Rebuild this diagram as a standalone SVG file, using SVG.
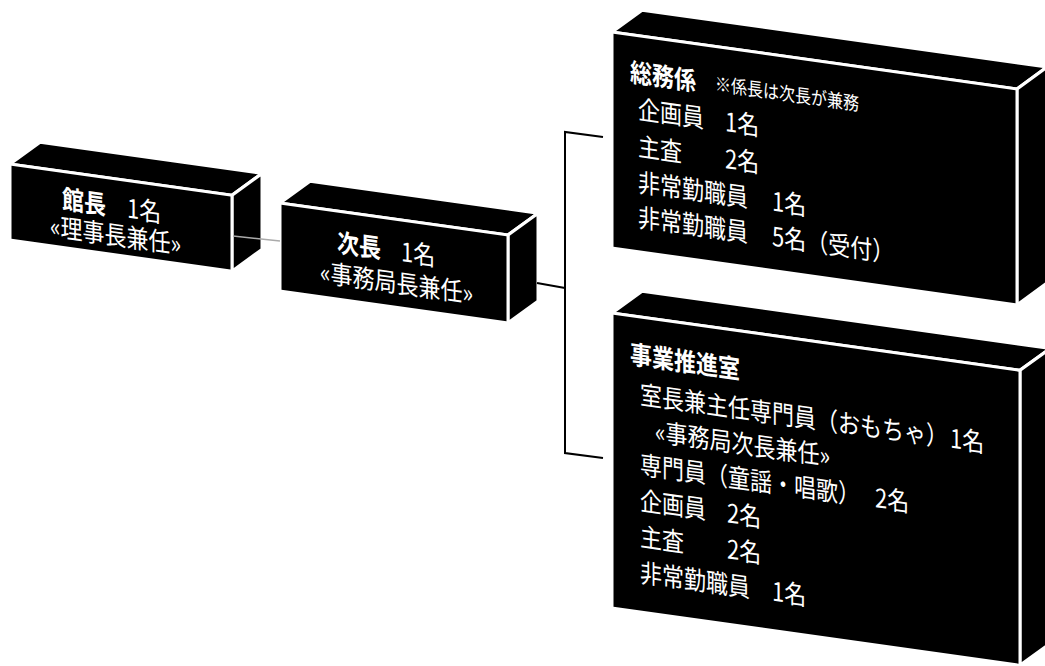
<svg xmlns="http://www.w3.org/2000/svg" width="1045" height="666" viewBox="0 0 1045 666">
<style>
.face{fill:#000;stroke:#fff;stroke-width:3;stroke-linejoin:round}
.t{font-family:"Noto Sans CJK JP","Noto Sans CJK SC",sans-serif;fill:#fff;font-size:22px}
.b{font-weight:bold}
.s{font-size:16px}
.ln{fill:none;stroke:#000;stroke-width:2}
</style>
<rect width="1045" height="666" fill="#fff"/>
<g id="node-kancho" transform="translate(10,164) skewY(8)">
<polygon class="face" points="0,0 30,-26 252,-26 222,0"/>
<polygon class="face" points="222,0 252,-26 252,50 222,76"/>
<rect class="face" x="0" y="0" width="222" height="76"/>
<text class="t" transform="translate(0,37) scale(1,1.18)"><tspan class="b" x="52">館長</tspan><tspan x="117">1名</tspan></text>
<text class="t" transform="translate(0,66) scale(1,1.18)" x="40">«理事長兼任»</text>
</g>
<g id="node-jicho" transform="translate(280,203) skewY(8)">
<polygon class="face" points="0,0 30,-26 258,-26 228,0"/>
<polygon class="face" points="228,0 258,-26 258,62 228,88"/>
<rect class="face" x="0" y="0" width="228" height="88"/>
<text class="t" transform="translate(0,41) scale(1,1.18)"><tspan class="b" x="57">次長</tspan><tspan x="121">1名</tspan></text>
<text class="t" transform="translate(0,73) scale(1,1.18)" x="40">«事務局長兼任»</text>
</g>
<g id="node-somu" transform="translate(612,32) skewY(8)">
<polygon class="face" points="0,0 30,-26 435,-26 405,0"/>
<polygon class="face" points="405,0 435,-26 435,190 405,216"/>
<rect class="face" x="0" y="0" width="405" height="216"/>
<text class="t b" transform="translate(0,47) scale(1,1.18)" x="18">総務係</text>
<text class="t s" transform="translate(0,44) scale(1,1.18)" x="103">※係長は次長が兼務</text>
<text class="t" transform="translate(0,83) scale(1,1.18)"><tspan x="26">企画員</tspan><tspan x="113">1名</tspan></text>
<text class="t" transform="translate(0,120) scale(1,1.18)"><tspan x="26">主査</tspan><tspan x="113">2名</tspan></text>
<text class="t" transform="translate(0,156) scale(1,1.18)"><tspan x="26">非常勤職員</tspan><tspan x="160">1名</tspan></text>
<text class="t" transform="translate(0,191) scale(1,1.18)"><tspan x="26">非常勤職員</tspan><tspan x="160">5名（受付）</tspan></text>
</g>
<g id="node-jigyo" transform="translate(612,313) skewY(8)">
<polygon class="face" points="0,0 30,-26 438,-26 408,0"/>
<polygon class="face" points="408,0 438,-26 438,269 408,295"/>
<rect class="face" x="0" y="0" width="408" height="295"/>
<text class="t b" transform="translate(0,48) scale(1,1.18)" x="18">事業推進室</text>
<text class="t" transform="translate(0,87) scale(1,1.18)"><tspan x="28">室長兼主任専門員（おもちゃ）</tspan><tspan x="338">1名</tspan></text>
<text class="t" transform="translate(0,122) scale(1,1.18)" x="43">«事務局次長兼任»</text>
<text class="t" transform="translate(0,157) scale(1,1.18)"><tspan x="28">専門員（童謡・唱歌）</tspan><tspan x="263">2名</tspan></text>
<text class="t" transform="translate(0,193) scale(1,1.18)"><tspan x="28">企画員</tspan><tspan x="115">2名</tspan></text>
<text class="t" transform="translate(0,229) scale(1,1.18)"><tspan x="28">主査</tspan><tspan x="115">2名</tspan></text>
<text class="t" transform="translate(0,265) scale(1,1.18)"><tspan x="28">非常勤職員</tspan><tspan x="160">1名</tspan></text>
</g>
<g id="connectors">
<line x1="233" y1="236" x2="280" y2="241" stroke="#aaa" stroke-width="1.5"/>
<line class="ln" x1="537" y1="283" x2="565" y2="288"/>
<polyline class="ln" points="603,137 565,132 565,453 603,458"/>
</g>
</svg>
